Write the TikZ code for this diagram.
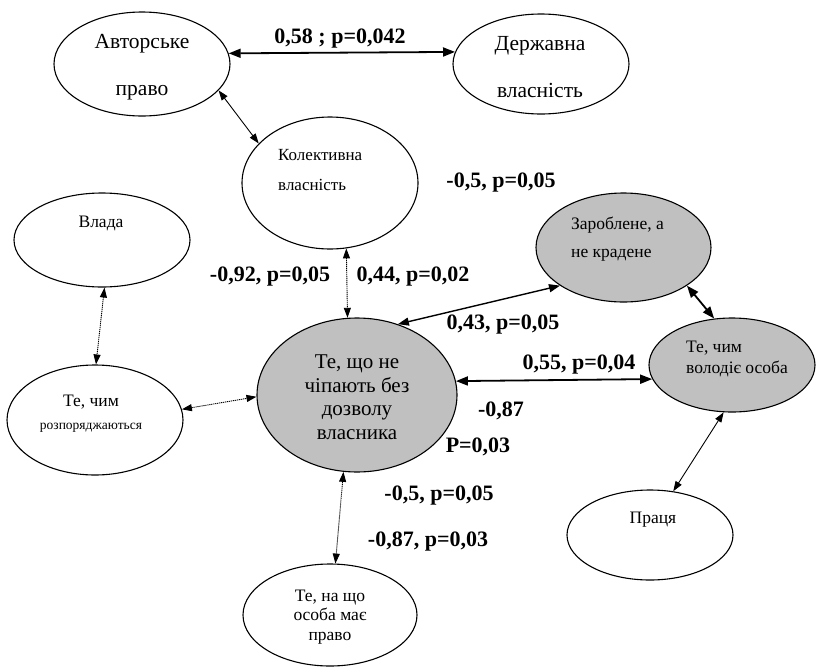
\documentclass[tikz,border=0pt]{standalone}
\usepackage{fontspec}
\setmainfont{Liberation Serif}
\usetikzlibrary{shapes.geometric,arrows.meta}
\definecolor{ovalgray}{RGB}{192,192,192}
\begin{document}
\begin{tikzpicture}[x=1pt,y=-1pt,
  oval/.style={draw,ellipse,line width=1.1pt,inner sep=0pt},
  grayoval/.style={oval,fill=ovalgray},
  txt/.style={inner sep=0pt,align=center},
  lbl/.style={font=\fontsize{22}{26}\selectfont\bfseries,anchor=mid,inner sep=0pt},
  linkthin/.style={line width=0.9pt,{Triangle[length=10pt,width=7pt]}-{Triangle[length=10pt,width=7pt]}},
  linkdot/.style={line width=0.9pt,dash pattern=on 1.2pt off 0.8pt,{Triangle[length=10pt,width=7pt]}-{Triangle[length=10pt,width=7pt]}},
  linkmed/.style={line width=1.4pt,{Triangle[length=11pt,width=8pt]}-{Triangle[length=11pt,width=8pt]}},
  linkthick/.style={line width=1.8pt,{Triangle[length=12pt,width=9pt]}-{Triangle[length=12pt,width=9pt]}}
]
\useasboundingbox (0,0) rectangle (820,670);

% ellipses
\node[oval,minimum width=176pt,minimum height=104pt] (avt) at (142,64) {};
\node[oval,minimum width=176pt,minimum height=100pt] (derzh) at (541,64) {};
\node[oval,minimum width=176pt,minimum height=132pt] (kol) at (330,183) {};
\node[oval,minimum width=176pt,minimum height=94pt] (vlada) at (102,240) {};
\node[oval,minimum width=176pt,minimum height=110pt] (rozp) at (95,420) {};
\node[grayoval,minimum width=200pt,minimum height=154pt] (centr) at (357,395) {};
\node[grayoval,minimum width=175pt,minimum height=109pt] (zarob) at (623.5,247.5) {};
\node[grayoval,minimum width=166pt,minimum height=94pt] (volod) at (732,365) {};
\node[oval,minimum width=166pt,minimum height=90pt] (pracia) at (650,535) {};
\node[oval,minimum width=174pt,minimum height=102pt] (pravo) at (330,615) {};

% texts in ellipses
\node[txt,font=\fontsize{21.5}{47}\selectfont] (tavt) at (142,67.5) {Авторське\\право};
\node[txt,font=\fontsize{21.5}{47}\selectfont] (tderzh) at (540,67.5) {Державна\\власність};
\node[txt,align=left,anchor=west,font=\fontsize{17}{30}\selectfont] (tkol) at (278,170) {Колективна\\власність};
\node[txt,font=\fontsize{17.5}{20}\selectfont] (tvlada) at (101,223) {Влада};
\node[txt,font=\fontsize{17.5}{20}\selectfont] (trozp1) at (91,402) {Те, чим};
\node[txt,font=\fontsize{13.5}{16}\selectfont] (trozp2) at (91,428) {розпоряджаються};
\node[txt,font=\fontsize{21}{23.5}\selectfont] (tcentr) at (357,397) {Те, що не\\чіпають без\\дозволу\\власника};
\node[txt,align=left,anchor=west,font=\fontsize{17.5}{28}\selectfont] (tzarob) at (571,239) {Зароблене, а\\не крадене};
\node[txt,align=left,anchor=west,font=\fontsize{17.5}{21}\selectfont] (tvolod) at (686,358.5) {Те, чим\\володіє особа};
\node[txt,font=\fontsize{17.5}{20}\selectfont] (tpracia) at (653,520) {Праця};
\node[txt,font=\fontsize{17.5}{19.5}\selectfont] (tpravo) at (330,617) {Те, на що\\особа має\\право};

% connectors
\draw[linkthick] (avt.7.3) -- (derzh.172.7);
\draw[linkthin] (avt.-19.8) -- (kol.151.3);
\draw[linkdot] (kol.-76) -- (centr.97.6);
\draw[linkdot] (vlada.-87.6) -- (rozp.89);
\draw[linkdot] (rozp.7.8) -- (centr.181.7);
\draw[linkdot] (centr.-100) -- (pravo.84.6);
\draw[linkmed] (centr.60.5) -- (zarob.211.9);
\draw[linkthick] (centr.8.7) -- (volod.190.8);
\draw[linkthick] (zarob.-31) -- (volod.111.4);
\draw[linkthin] (volod.-100.6) -- (pracia.62.9);

% labels
\node[lbl] (l1) at (340,41) {0,58 ; p=0,042};
\node[lbl] (l2) at (501,185) {-0,5, p=0,05};
\node[lbl] (l3) at (270,279) {-0,92, p=0,05};
\node[lbl] (l4) at (413,279) {0,44, p=0,02};
\node[lbl] (l5) at (503,327) {0,43, p=0,05};
\node[lbl] (l6) at (579,367) {0,55, p=0,04};
\node[lbl] (l7) at (501,414) {-0,87};
\node[lbl] (l8) at (478,450) {P=0,03};
\node[lbl] (l9) at (439,498) {-0,5, p=0,05};
\node[lbl] (l10) at (428,544) {-0,87, p=0,03};
\end{tikzpicture}
\end{document}
